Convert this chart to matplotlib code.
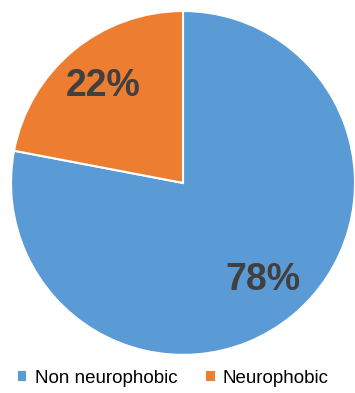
import matplotlib
matplotlib.use("Agg")
import matplotlib.pyplot as plt
from matplotlib.patches import Patch

labels = ["Non neurophobic", "Neurophobic"]
shares = [78, 22]
colors = ["#5B9BD5", "#ED7D31"]

fig = plt.figure(figsize=(3.55, 3.93), dpi=100)
ax = fig.add_axes([0.031, 0.097, 0.969, 0.875])

wedges, texts, autotexts = ax.pie(
    shares, colors=colors, startangle=90, counterclock=False,
    autopct="%d%%", pctdistance=0.73,
    wedgeprops=dict(edgecolor="white", linewidth=1.5),
    textprops=dict(color="#404040", fontsize=27, fontweight="bold",
                   family=["Liberation Sans", "DejaVu Sans"]))
ax.set_xlim(-1, 1)
ax.set_ylim(-1, 1)
ax.set_aspect("auto")

handles = [Patch(facecolor=c, label=l) for c, l in zip(colors, labels)]
fig.legend(handles=handles, loc="center", bbox_to_anchor=(0.489, 0.038),
           ncol=2, frameon=False, handlelength=0.43,
           handleheight=0.43, handletextpad=0.45, columnspacing=1.55,
           prop=dict(family=["Liberation Sans", "DejaVu Sans"], size=13.5))

fig.savefig("out.png", dpi=100)
